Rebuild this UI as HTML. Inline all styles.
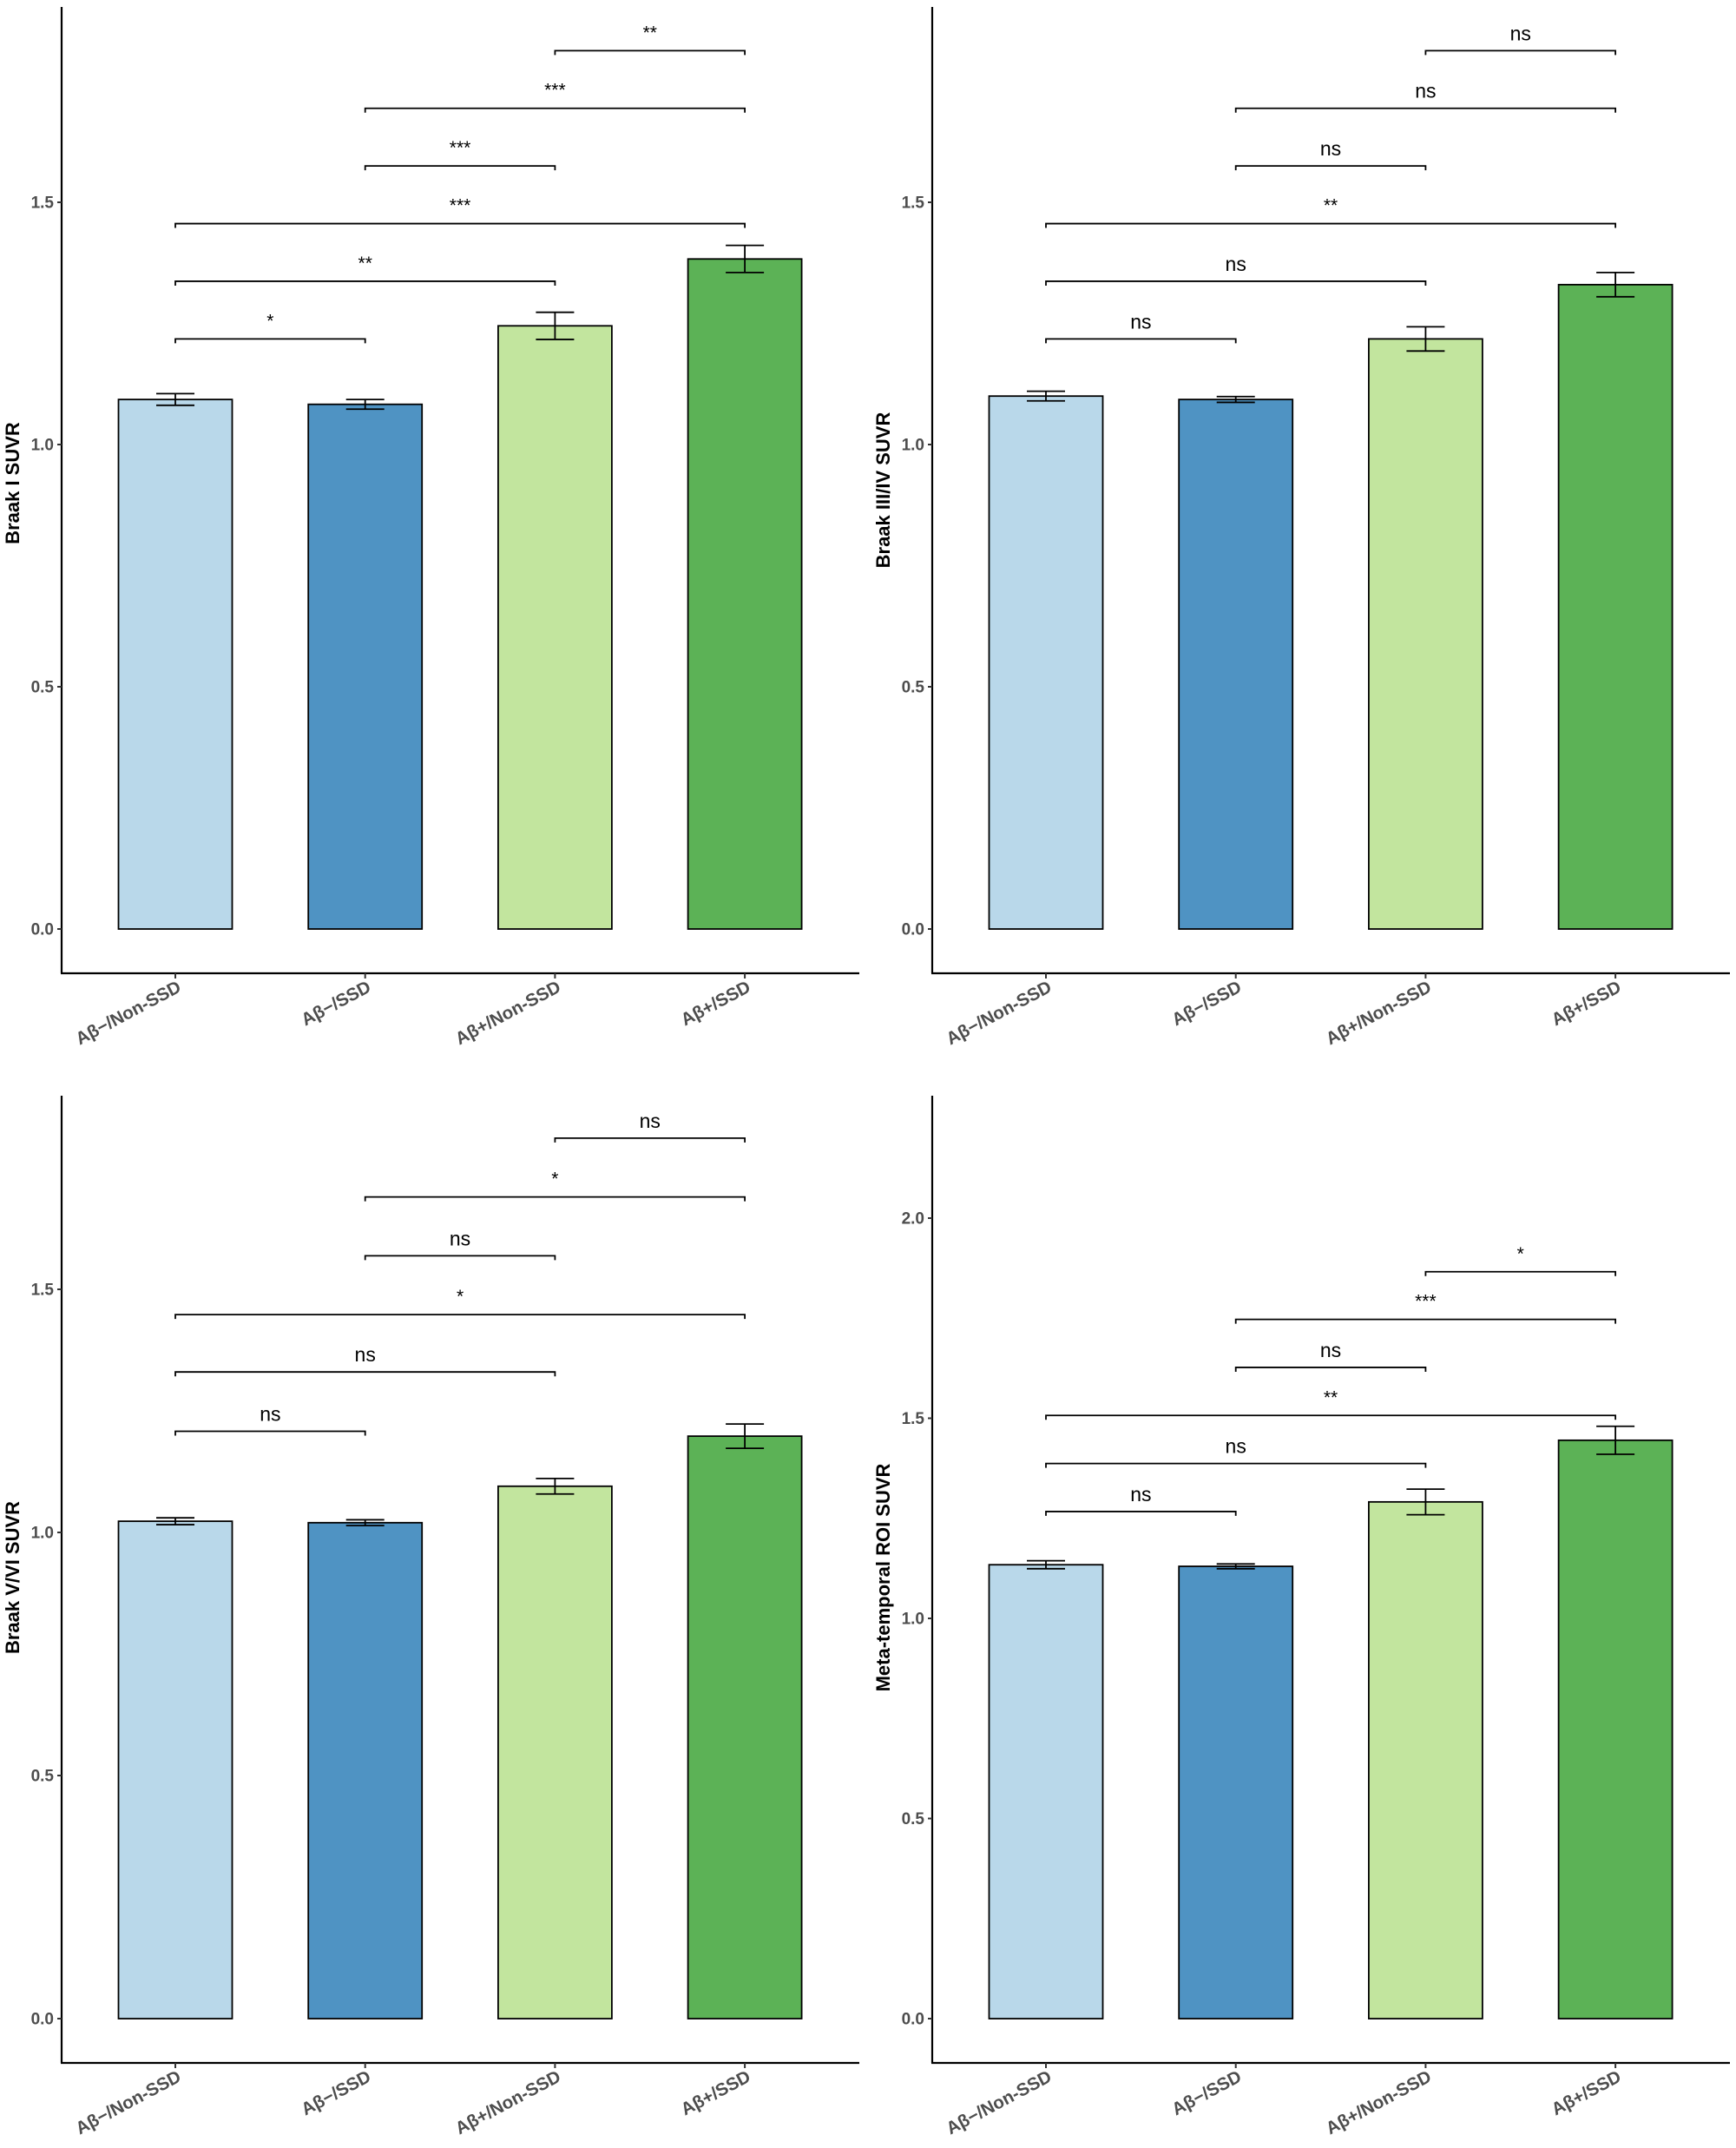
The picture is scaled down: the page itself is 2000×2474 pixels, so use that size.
<!DOCTYPE html>
<html><head><meta charset="utf-8">
<style>
html,body{margin:0;padding:0;background:#fff;}
svg{display:block;font-family:"Liberation Sans",Arial,sans-serif;}
</style></head>
<body>
<svg id="fig" width="2000" height="2474" viewBox="0 0 2000 2474" xmlns="http://www.w3.org/2000/svg"></svg>
<script>
const categories = ["Aβ−/Non-SSD","Aβ−/SSD","Aβ+/Non-SSD","Aβ+/SSD"];
const barColors = ["#B9D8EA","#4F93C3","#C2E59E","#5CB256"];
const bracketPairs = [[0,1],[0,2],[0,3],[1,2],[1,3],[2,3]];

const p1Values = [1.093,1.083,1.245,1.383];
const p1Errors = [0.012,0.010,0.028,0.028];
const p1BracketY = [1.218,1.337,1.456,1.575,1.694,1.813];
const p1Labels = ["*","**","***","***","***","**"];
const p1Ticks = [0,0.5,1.0,1.5];

const p2Values = [1.100,1.093,1.218,1.330];
const p2Errors = [0.010,0.006,0.025,0.025];
const p2BracketY = [1.218,1.337,1.456,1.575,1.694,1.813];
const p2Labels = ["ns","ns","**","ns","ns","ns"];
const p2Ticks = [0,0.5,1.0,1.5];

const p3Values = [1.023,1.020,1.095,1.198];
const p3Errors = [0.007,0.006,0.016,0.025];
const p3BracketY = [1.208,1.330,1.448,1.569,1.690,1.811];
const p3Labels = ["ns","ns","*","ns","*","ns"];
const p3Ticks = [0,0.5,1.0,1.5];

const p4Values = [1.134,1.130,1.291,1.445];
const p4Errors = [0.010,0.006,0.032,0.035];
const p4BracketY = [1.267,1.387,1.507,1.627,1.747,1.866];
const p4Labels = ["ns","ns","**","ns","***","*"];
const p4Ticks = [0,0.5,1.0,1.5,2.0];

const NS = "http://www.w3.org/2000/svg";
const svg = document.getElementById("fig");
function mk(tag, attrs, parent){
  const e = document.createElementNS(NS, tag);
  for (const k in attrs) e.setAttribute(k, attrs[k]);
  (parent||svg).appendChild(e);
  return e;
}

function panel(cfg){
  const g = mk("g", {});
  
  
  const yScale = v => cfg.y0 - v * cfg.perUnit;
  const xScale = i => cfg.axisX + 131 + i * 218.7;
  const bw = 131;
  const ya = mk("line", {x1:cfg.axisX, y1:cfg.top, x2:cfg.axisX, y2:cfg.axisY, stroke:"#000","stroke-width":2.2}, g);
  
  
  const xa = mk("line", {x1:cfg.axisX-1, y1:cfg.axisY, x2:cfg.right, y2:cfg.axisY, stroke:"#000","stroke-width":2.2}, g);
  
  
  cfg.ticks.forEach(t => {
    const y = yScale(t);
    mk("line", {x1:cfg.axisX-5, y1:y, x2:cfg.axisX, y2:y, stroke:"#333","stroke-width":2}, g);
    const tx = mk("text", {x:cfg.axisX-9, y:y+6.5, "text-anchor":"end", "font-size":19, "font-weight":"bold", fill:"#4d4d4d"}, g);
    tx.textContent = t.toFixed(1);
    
    
  });
  const cy = (cfg.top + cfg.axisY)/2 + cfg.titleShift;
  const yt = mk("text", {x:0, y:0, transform:`translate(${cfg.axisX-49},${cy}) rotate(-90)`, "text-anchor":"middle", "font-size":22, "font-weight":"bold", fill:"#000"}, g);
  yt.textContent = cfg.title;
  
  
  cfg.values.forEach((v,i) => {
    const cx = xScale(i);
    const r = mk("rect", {x:cx-bw/2, y:yScale(v), width:bw, height:yScale(0)-yScale(v), fill:barColors[i], stroke:"#000","stroke-width":1.8}, g);
    
    
    const e = cfg.errors[i];
    const eg = mk("g", {stroke:"#000","stroke-width":1.8}, g);
    
    
    mk("line", {x1:cx, y1:yScale(v+e), x2:cx, y2:yScale(v-e)}, eg);
    mk("line", {x1:cx-22, y1:yScale(v+e), x2:cx+22, y2:yScale(v+e)}, eg);
    mk("line", {x1:cx-22, y1:yScale(v-e), x2:cx+22, y2:yScale(v-e)}, eg);
    mk("line", {x1:cx, y1:cfg.axisY, x2:cx, y2:cfg.axisY+6, stroke:"#333","stroke-width":2}, g);
    const xl = mk("text", {x:0, y:0, transform:`translate(${cx+8},${cfg.axisY+20}) rotate(-28)`, "text-anchor":"end", "font-size":20.5, "font-weight":"bold", fill:"#4d4d4d"}, g);
    xl.textContent = categories[i];
    
    
  });
  bracketPairs.forEach((p,k) => {
    const y = yScale(cfg.bracketY[k]);
    const x1 = xScale(p[0]), x2 = xScale(p[1]);
    const bg = mk("g", {}, g);
    
    
    mk("path", {d:`M${x1},${y+5} V${y} H${x2} V${y+5}`, fill:"none", stroke:"#000","stroke-width":1.8}, bg);
    const lab = cfg.labels[k];
    const isNs = lab === "ns";
    const t = mk("text", {x:(x1+x2)/2, y: isNs ? y-12 : y-14, "text-anchor":"middle", "font-size": isNs ? 23 : 21, fill:"#000"}, bg);
    t.textContent = lab;
    
    
  });
}

panel({name:"braak-i-panel", title:"Braak I SUVR", axisX:71, top:8, axisY:1121, right:990, y0:1070, perUnit:558, titleShift:-8,
  values:p1Values, errors:p1Errors, bracketY:p1BracketY, labels:p1Labels, ticks:p1Ticks});
panel({name:"braak-iii-iv-panel", title:"Braak III/IV SUVR", axisX:1074, top:8, axisY:1121, right:1993, y0:1070, perUnit:558, titleShift:0,
  values:p2Values, errors:p2Errors, bracketY:p2BracketY, labels:p2Labels, ticks:p2Ticks});
panel({name:"braak-v-vi-panel", title:"Braak V/VI SUVR", axisX:71, top:1262, axisY:2376, right:990, y0:2325, perUnit:560, titleShift:-2,
  values:p3Values, errors:p3Errors, bracketY:p3BracketY, labels:p3Labels, ticks:p3Ticks});
panel({name:"meta-temporal-panel", title:"Meta-temporal ROI SUVR", axisX:1074, top:1262, axisY:2376, right:1993, y0:2325, perUnit:461, titleShift:-2,
  values:p4Values, errors:p4Errors, bracketY:p4BracketY, labels:p4Labels, ticks:p4Ticks});
</script>
</body></html>
